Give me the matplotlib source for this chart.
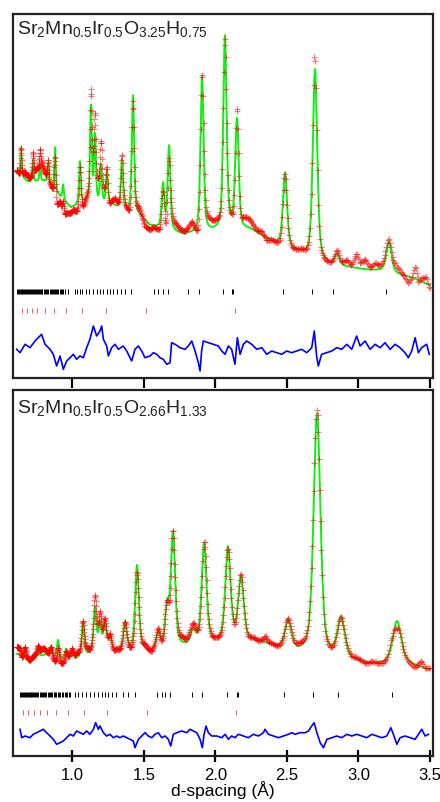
import numpy as np
import matplotlib.pyplot as plt

plt.rcParams['font.family'] = ['Liberation Sans', 'DejaVu Sans']
plt.rcParams['mathtext.fontset'] = 'custom'
plt.rcParams['mathtext.rm'] = 'Liberation Sans'
plt.rcParams['mathtext.it'] = 'Liberation Sans:italic'

#Panel superior: Sr2Mn0.5Ir0.5O3.25H0.75
titulo_a = r'$\mathrm{Sr_2Mn_{0.5}Ir_{0.5}O_{3.25}H_{0.75}}$'
fondo_d_a = [0.612, 0.689, 0.808, 0.899, 0.990, 1.087, 1.283, 1.374, 1.472, 1.542, 1.773,
             1.997, 2.241, 2.430, 2.612, 2.801, 3.059, 3.171, 3.290, 3.381, 3.493]
fondo_v_a = [206, 196, 197, 183, 170, 176, 172, 166, 162, 152, 143,
             146, 148, 134, 123, 113, 108, 107, 103, 100, 93]
picos_d_a = [0.640, 0.724, 0.773, 0.829, 0.878, 0.934, 1.052, 1.129, 1.157, 1.199, 1.241,
             1.346, 1.423, 1.633, 1.675, 1.906, 2.066, 2.150, 2.486, 2.696, 2.850, 3.213]
picos_h_a = [28, 22, 17, 20, 44, 15, 42, 95, 66, 38, 33,
             50, 118, 44, 84, 156, 194, 110, 74, 190, 11, 30]
dif_d_a = [0.610, 0.633, 0.668, 0.703, 0.738, 0.761, 0.784, 0.808, 0.843, 0.866, 0.889, 0.913,
           0.936, 0.959, 0.983, 1.006, 1.029, 1.052, 1.076, 1.099, 1.122, 1.146, 1.169, 1.192,
           1.204, 1.216, 1.239, 1.251, 1.274, 1.297, 1.321, 1.355, 1.379, 1.414, 1.437, 1.461,
           1.484, 1.507, 1.542, 1.566, 1.589, 1.612, 1.635, 1.659, 1.682, 1.693, 1.717, 1.752,
           1.787, 1.810, 1.834, 1.857, 1.880, 1.892, 1.903, 1.915, 1.950, 1.985, 2.020, 2.044,
           2.067, 2.090, 2.113, 2.136, 2.153, 2.172, 2.195, 2.218, 2.253, 2.288, 2.324, 2.358,
           2.393, 2.428, 2.463, 2.498, 2.533, 2.568, 2.603, 2.638, 2.673, 2.691, 2.707, 2.719,
           2.742, 2.778, 2.813, 2.848, 2.883, 2.918, 2.953, 2.987, 3.011, 3.046, 3.081, 3.116,
           3.151, 3.186, 3.221, 3.256, 3.290, 3.325, 3.349, 3.372, 3.396, 3.419, 3.442, 3.477, 3.495]
dif_v_a = [1.7, -1.7, 6.7, 3.3, 10, 13.3, 16.7, 6.7, 1.7, -3.3, -15, -5,
           -18.3, -10, -6.7, -3.3, -8.3, -5, -6.7, 3.3, 11.7, 25, 15, 20,
           25, 11.7, 5, -5, 3.3, 6.7, 1.7, 5, 0, -10, 1.7, 5,
           0, -6.7, -5, -1.7, -3.3, -6.7, -8.3, -13.3, -11.7, 8.3, 6.7, 3.3,
           1.7, 5, 10, 0, -11.7, -20, 0, 10, 8.3, 6.7, 5, 0,
           -3.3, 5, 1.7, -13.3, 13.3, -3.3, 6.7, 10, 6.7, 1.7, 3.3, -3.3,
           0, -1.7, -3.3, 0, -1.7, 0, 1.7, -1.7, 3.3, 20, -5, -15,
           -3.3, -1.7, 0, 3.3, 1.7, 6.7, 1.7, 15, 5, 10, 1.7, 6.7,
           3.3, 8.3, 1.7, 6.7, 3.3, -1.7, -6.7, 0, 13.3, -1.7, 3.3, 6.7, -3.3]
reflex_1_a = [0.61, 0.618, 0.625, 0.63, 0.637, 0.645, 0.65, 0.656, 0.662, 0.67, 0.676, 0.683,
              0.69, 0.695, 0.70, 0.708, 0.716, 0.722, 0.73, 0.735, 0.742, 0.75, 0.757, 0.765,
              0.772, 0.78, 0.786, 0.79, 0.80, 0.81, 0.815, 0.823, 0.83, 0.84, 0.848, 0.855,
              0.862, 0.87, 0.878, 0.885, 0.893, 0.9, 0.91, 0.918, 0.925, 0.935, 0.945,
              0.971, 1.017, 1.033, 1.052, 1.064, 1.094, 1.118, 1.145, 1.169, 1.192, 1.216,
              1.239, 1.262, 1.286, 1.309, 1.337, 1.367, 1.409, 1.572, 1.600, 1.635, 1.670,
              1.810, 1.887, 2.050, 2.113, 2.124, 2.470, 2.673, 2.824, 3.192]
reflex_2_a = [0.645, 0.680, 0.715, 0.754, 0.808, 0.871, 0.955, 1.069, 1.234, 1.512, 2.138]

#Panel inferior: Sr2Mn0.5Ir0.5O2.66H1.33
titulo_b = r'$\mathrm{Sr_2Mn_{0.5}Ir_{0.5}O_{2.66}H_{1.33}}$'
fondo_d_b = [0.612, 0.703, 0.808, 0.934, 1.024, 1.108, 1.297, 1.479, 1.542, 1.773,
             2.010, 2.241, 2.332, 2.437, 2.591, 2.941, 3.101, 3.199, 3.325, 3.486]
fondo_v_b = [102, 97, 101, 96, 96, 100, 104, 106, 103, 108,
             112, 114, 112, 108, 102, 95, 91, 92, 93, 86]
picos_d_b = [0.668, 0.759, 0.850, 0.899, 0.955, 0.997, 1.073, 1.157, 1.192, 1.227, 1.262,
             1.367, 1.451, 1.598, 1.661, 1.703, 1.843, 1.920, 2.087, 2.178, 2.507, 2.710,
             2.878, 3.269]
picos_h_b = [10, 7, 10, 18, 10, 10, 34, 45, 28, 30, 14,
             28, 84, 16, 40, 114, 14, 100, 94, 64, 28, 242,
             40, 42]
dif_d_b = [0.633, 0.645, 0.668, 0.703, 0.726, 0.749, 0.773, 0.796, 0.819, 0.843, 0.866, 0.889,
           0.913, 0.936, 0.959, 0.983, 1.006, 1.029, 1.052, 1.076, 1.099, 1.122, 1.146, 1.162,
           1.181, 1.192, 1.216, 1.239, 1.262, 1.286, 1.309, 1.332, 1.355, 1.379, 1.402, 1.425,
           1.437, 1.461, 1.484, 1.507, 1.530, 1.554, 1.577, 1.600, 1.624, 1.647, 1.670, 1.687,
           1.705, 1.729, 1.764, 1.799, 1.822, 1.845, 1.869, 1.892, 1.908, 1.920, 1.934, 1.950,
           1.974, 2.009, 2.044, 2.067, 2.090, 2.113, 2.136, 2.160, 2.195, 2.230, 2.265, 2.300,
           2.335, 2.346, 2.370, 2.405, 2.440, 2.475, 2.510, 2.533, 2.556, 2.591, 2.626, 2.650,
           2.673, 2.690, 2.709, 2.732, 2.755, 2.779, 2.814, 2.848, 2.883, 2.918, 2.953, 2.987,
           3.023, 3.058, 3.093, 3.128, 3.163, 3.198, 3.226, 3.244, 3.268, 3.291, 3.326, 3.361,
           3.396, 3.419, 3.442, 3.466, 3.489]
dif_v_b = [6.7, -1.7, 0, -1.7, 1.7, 3.3, 5, 6.7, 3.3, 0, -3.3, -8.3,
           -6.7, -5, -1.7, 1.7, 0, 5, 3.3, 1.7, 5, 1.7, 6.7, 13.3,
           6.7, 10, 3.3, 0, 1.7, -1.7, 0, -1.7, 0, -1.7, -3.3, -5,
           -11.7, -3.3, 0, 3.3, 0, -1.7, 1.7, 3.3, -1.7, 0, -3.3, -10,
           1.7, 3.3, 5, 3.3, 6.7, 5, 3.3, -3.3, -11.7, 1.7, 10, 3.3,
           0, 0, -1.7, 1.7, -3.3, 0, -1.7, 1.7, 0, -1.7, 1.7, 0,
           3.3, 6.7, 1.7, 0, -1.7, 0, 1.7, 3.3, 1.7, 3.3, 3.3, 5,
           10, 13.3, 3.3, -6.7, -11.7, -3.3, -1.7, 0, -1.7, 1.7, 0, 1.7,
           0, -1.7, 1.7, 0, -1.7, 0, 8.3, 1.7, -8.3, -1.7, 0, -1.7,
           -3.3, 1.7, 6.7, 0, 1.7]
reflex_1_b = [0.633, 0.64, 0.647, 0.653, 0.66, 0.667, 0.673, 0.68, 0.687, 0.693, 0.70, 0.707,
              0.713, 0.72, 0.727, 0.733, 0.74, 0.748, 0.755, 0.762, 0.77, 0.778, 0.786, 0.795,
              0.803, 0.81, 0.818, 0.826, 0.835, 0.843, 0.852, 0.86, 0.87, 0.878, 0.888, 0.897,
              0.906, 0.915, 0.925, 0.935, 0.945, 0.955, 0.965, 0.975, 0.983,
              1.017, 1.040, 1.064, 1.094, 1.122, 1.150, 1.181, 1.204, 1.227, 1.251, 1.274,
              1.307, 1.354, 1.389, 1.437, 1.589, 1.624, 1.647, 1.682, 1.834, 1.908,
              2.078, 2.148, 2.160, 2.481, 2.684, 2.859, 3.237]
reflex_2_b = [0.656, 0.691, 0.733, 0.773, 0.820, 0.885, 0.971, 1.083, 1.243, 1.519, 2.143]

#Perfil calculado: fondo + picos pseudo-Voigt
def perfil(d, fondo_d, fondo_v, pos, alt, k):
    y = np.interp(d, fondo_d, fondo_v)
    for p, h in zip(pos, alt):
        x = (d - p) / (k * p / 2)
        y = y + h * (0.5 / (1 + x**2) + 0.5 * np.exp(-np.log(2) * x**2))
    return y

def panel(ax, titulo, fondo_d, fondo_v, picos_d, picos_h, k, dif_d, dif_v,
          r1, r2, y_r1, y_r2, y_dif, y_titulo, ymax):
    d_fino = np.geomspace(0.61, 3.5, 3000)
    d_obs = np.geomspace(0.61, 3.5, 900)
    calc = perfil(d_fino, fondo_d, fondo_v, picos_d, picos_h, k)
    obs = perfil(d_obs, fondo_d, fondo_v, picos_d, picos_h, k) + np.interp(d_obs, dif_d, dif_v)
    ax.plot(d_fino, calc, color='#11ee11', lw=1.4, zorder=2)
    ax.plot(d_obs, obs, '+', color='red', ms=4, mew=0.7, alpha=0.55, zorder=3)
    ax.vlines(r1, y_r1 - 2.5, y_r1 + 2.5, color='black', lw=0.7)
    ax.vlines(r2, y_r2 - 2.5, y_r2 + 2.5, color='#ff5050', lw=0.7)
    ax.plot(dif_d, y_dif + np.array(dif_v), color='#0000ff', lw=1.2)
    ax.text(0.01, y_titulo, titulo, transform=ax.transAxes, fontsize=14,
            color='#222222', va='top', ha='left')
    ax.set_xlim(0.584, 3.521)
    ax.set_ylim(0, ymax)
    ax.set_yticks([])
    ax.set_xticks([1.0, 1.5, 2.0, 2.5, 3.0, 3.5])
    for s in ax.spines.values():
        s.set_linewidth(1.6)
        s.set_color('#222222')

fig = plt.figure(figsize=(4.4, 8.02), dpi=100)
ax1 = fig.add_axes([13/440, 424/802, 420/440, 364/802])
ax2 = fig.add_axes([13/440, 46/802, 420/440, 366/802])

panel(ax1, titulo_a, fondo_d_a, fondo_v_a, picos_d_a, picos_h_a, 0.0135, dif_d_a, dif_v_a,
      reflex_1_a, reflex_2_a, 86, 67, 27, 0.985, 364)
panel(ax2, titulo_b, fondo_d_b, fondo_v_b, picos_d_b, picos_h_b, 0.021, dif_d_b, dif_v_b,
      reflex_1_b, reflex_2_b, 62, 44, 20, 0.978, 366)

ax1.tick_params(axis='x', direction='out', length=7, width=1.6, labelbottom=False)
ax2.tick_params(axis='x', direction='inout', length=9, width=1.6, labelsize=12, pad=4)
ax2.set_xticklabels(['1.0', '1.5', '2.0', '2.5', '3.0', '3.5'])
ax2.set_xlabel('d-spacing (Å)', fontsize=12.5, labelpad=-1)

fig.savefig('out.png', dpi=100)
